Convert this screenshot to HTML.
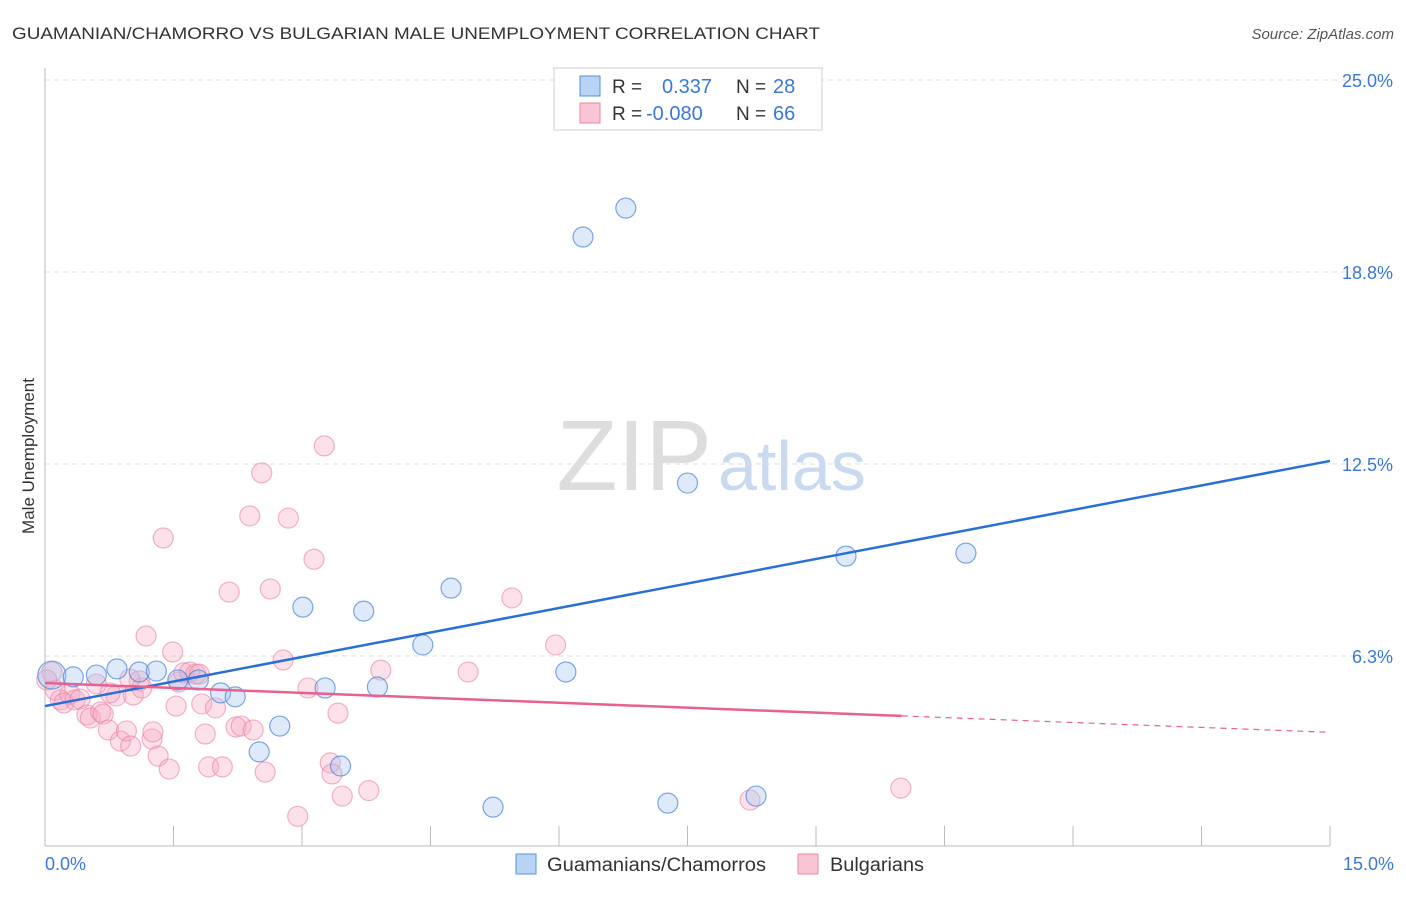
<!DOCTYPE html>
<html><head><meta charset="utf-8"><style>
body{margin:0;background:#fff;font-family:"Liberation Sans",sans-serif}
svg text{font-family:"Liberation Sans",sans-serif}
</style></head><body>
<svg id="chart" width="1406" height="892">
<text x="12" y="39" font-size="17" fill="#333" textLength="808" lengthAdjust="spacingAndGlyphs">GUAMANIAN/CHAMORRO VS BULGARIAN MALE UNEMPLOYMENT CORRELATION CHART</text>
<text x="1394" y="39" font-size="15" fill="#555" text-anchor="end" font-style="italic">Source: ZipAtlas.com</text>
<text x="34" y="456" font-size="17" fill="#333" text-anchor="middle" transform="rotate(-90 34 456)">Male Unemployment</text>
<text x="712" y="490" font-size="100" fill="#ddd" text-anchor="end" font-family="Liberation Serif">ZIP</text>
<text x="718" y="490" font-size="70" fill="#c9daf0">atlas</text>
<g id="grid"></g><g id="marks"></g>
<g>
<rect x="554" y="68" width="268" height="62" fill="#fff" stroke="#ccc"/>
<rect x="580" y="76" width="20" height="20" fill="#b8d3f3" stroke="#5a8fd8"/>
<rect x="580" y="103" width="20" height="20" fill="#f9c4d4" stroke="#e88aa8"/>
<text x="612" y="93" font-size="19" fill="#333">R =</text><text x="662" y="93" font-size="20" fill="#3a78d4">0.337</text>
<text x="736" y="93" font-size="19" fill="#333">N =</text><text x="773" y="93" font-size="20" fill="#3a78d4">28</text>
<text x="612" y="120" font-size="19" fill="#333">R =</text><text x="646" y="120" font-size="20" fill="#3a78d4">-0.080</text>
<text x="736" y="120" font-size="19" fill="#333">N =</text><text x="773" y="120" font-size="20" fill="#3a78d4">66</text>
</g>
<g>
<rect x="516" y="854" width="20" height="20" fill="#b8d3f3" stroke="#5a8fd8"/>
<text x="547" y="871" font-size="19" fill="#333" textLength="219" lengthAdjust="spacingAndGlyphs">Guamanians/Chamorros</text>
<rect x="798" y="854" width="20" height="20" fill="#f9c4d4" stroke="#e88aa8"/>
<text x="830" y="871" font-size="19" fill="#333" textLength="94" lengthAdjust="spacingAndGlyphs">Bulgarians</text>
</g>
</svg>
<script>
const yTicks=[6.25,12.5,18.75,25];
const yTickLabels=["6.3%","12.5%","18.8%","25.0%"];
const xTickLabels=["0.0%","15.0%"];
const blueX=[0.08,0.33,0.6,0.84,1.1,1.3,1.55,1.79,2.05,2.22,2.5,2.74,3.01,3.27,3.45,3.72,3.88,4.41,4.74,5.23,6.08,6.28,6.78,7.27,7.5,8.3,9.35,10.75];
const blueY=[5.63,5.57,5.63,5.83,5.73,5.76,5.47,5.47,5.05,4.92,3.13,3.97,7.84,5.21,2.67,7.71,5.24,6.61,8.46,1.33,5.73,19.89,20.83,1.46,11.88,1.69,9.5,9.6];
const pinkX=[0.08,0.12,0.18,0.22,0.29,0.35,0.41,0.49,0.53,0.6,0.65,0.68,0.74,0.83,0.88,0.95,1.0,1.03,1.1,1.13,1.18,1.25,1.26,1.32,1.38,1.45,1.49,1.53,1.56,1.62,1.69,1.76,1.8,1.83,1.87,1.91,1.99,2.07,2.15,2.23,2.29,2.39,2.43,2.53,2.57,2.63,2.78,2.84,2.95,3.07,3.14,3.26,3.33,3.35,3.42,3.47,3.78,3.92,4.94,5.45,5.96,8.23,9.99,0.02,0.99,0.76];
const pinkY=[5.73,5.14,4.82,4.72,5.01,4.82,4.85,4.33,4.23,5.34,4.43,4.36,3.84,4.95,3.48,3.81,3.32,4.98,5.44,5.21,6.9,3.55,3.78,2.99,10.09,2.57,6.38,4.62,5.4,5.7,5.73,5.66,5.66,4.69,3.71,2.64,4.56,2.64,8.33,3.94,3.97,10.81,3.84,12.21,2.47,8.43,6.12,10.74,1.03,5.21,9.4,13.09,2.77,2.41,4.39,1.69,1.87,5.79,5.73,8.14,6.61,1.56,1.95,5.47,5.5,5.05];
const blueTrend=[4.62,12.6];
const pinkTrend=[5.37,-0.107];
const NS="http://www.w3.org/2000/svg";
const X=v=>45+v/15*1285, Y=v=>848-v*30.72;
function mk(t,a,p){const e=document.createElementNS(NS,t);for(const k in a)e.setAttribute(k,a[k]);p.appendChild(e);return e;}
const g=document.getElementById('grid'),m=document.getElementById('marks');
yTicks.forEach((t,i)=>{
 const l=mk('line',{x1:45,x2:1394,y1:Y(t),y2:Y(t),stroke:'#ddd','stroke-dasharray':'5,4'},g);
 
 
 const tx=mk('text',{x:1393,y:Y(t)+7,'font-size':18,fill:'#3a78d4','text-anchor':'end'},g);tx.textContent=yTickLabels[i];
 
 
});
mk('line',{x1:45,x2:45,y1:68,y2:846,stroke:'#bbb'},g);
mk('line',{x1:45,x2:1330,y1:846,y2:846,stroke:'#bbb'},g);
for(let i=1;i<=10;i++){const x=X(i*1.5);const t=mk('line',{x1:x,x2:x,y1:826,y2:846,stroke:'#bbb'},g);
 
 }
[[0,45,'start'],[15,1394,'end']].forEach((d,i)=>{const t=mk('text',{x:d[1],y:870,'font-size':18,fill:'#3a78d4','text-anchor':d[2]},g);t.textContent=xTickLabels[i];
 
 });
pinkX.forEach((x,i)=>{const c=mk('circle',{cx:X(x),cy:Y(pinkY[i]),r:10,fill:'rgba(246,170,195,0.35)',stroke:'rgba(232,130,165,0.6)','stroke-width':1.2},m);
 
 });
blueX.forEach((x,i)=>{const c=mk('circle',{cx:X(x),cy:Y(blueY[i]),r:i==0?14:10,fill:'rgba(160,195,240,0.35)',stroke:'rgba(70,130,215,0.7)','stroke-width':1.2},m);
 
 });
let l=mk('line',{x1:X(0),y1:Y(blueTrend[0]),x2:X(15),y2:Y(blueTrend[1]),stroke:'#2a6fd6','stroke-width':2.5},m);


l=mk('line',{x1:X(0),y1:Y(pinkTrend[0]),x2:X(10),y2:Y(pinkTrend[0]+pinkTrend[1]*10),stroke:'#e8608f','stroke-width':2.5},m);


l=mk('line',{x1:X(10),y1:Y(pinkTrend[0]+pinkTrend[1]*10),x2:X(15),y2:Y(pinkTrend[0]+pinkTrend[1]*15),stroke:'#e8608f','stroke-width':1.2,'stroke-dasharray':'6,5'},m);


</script>
</body></html>
